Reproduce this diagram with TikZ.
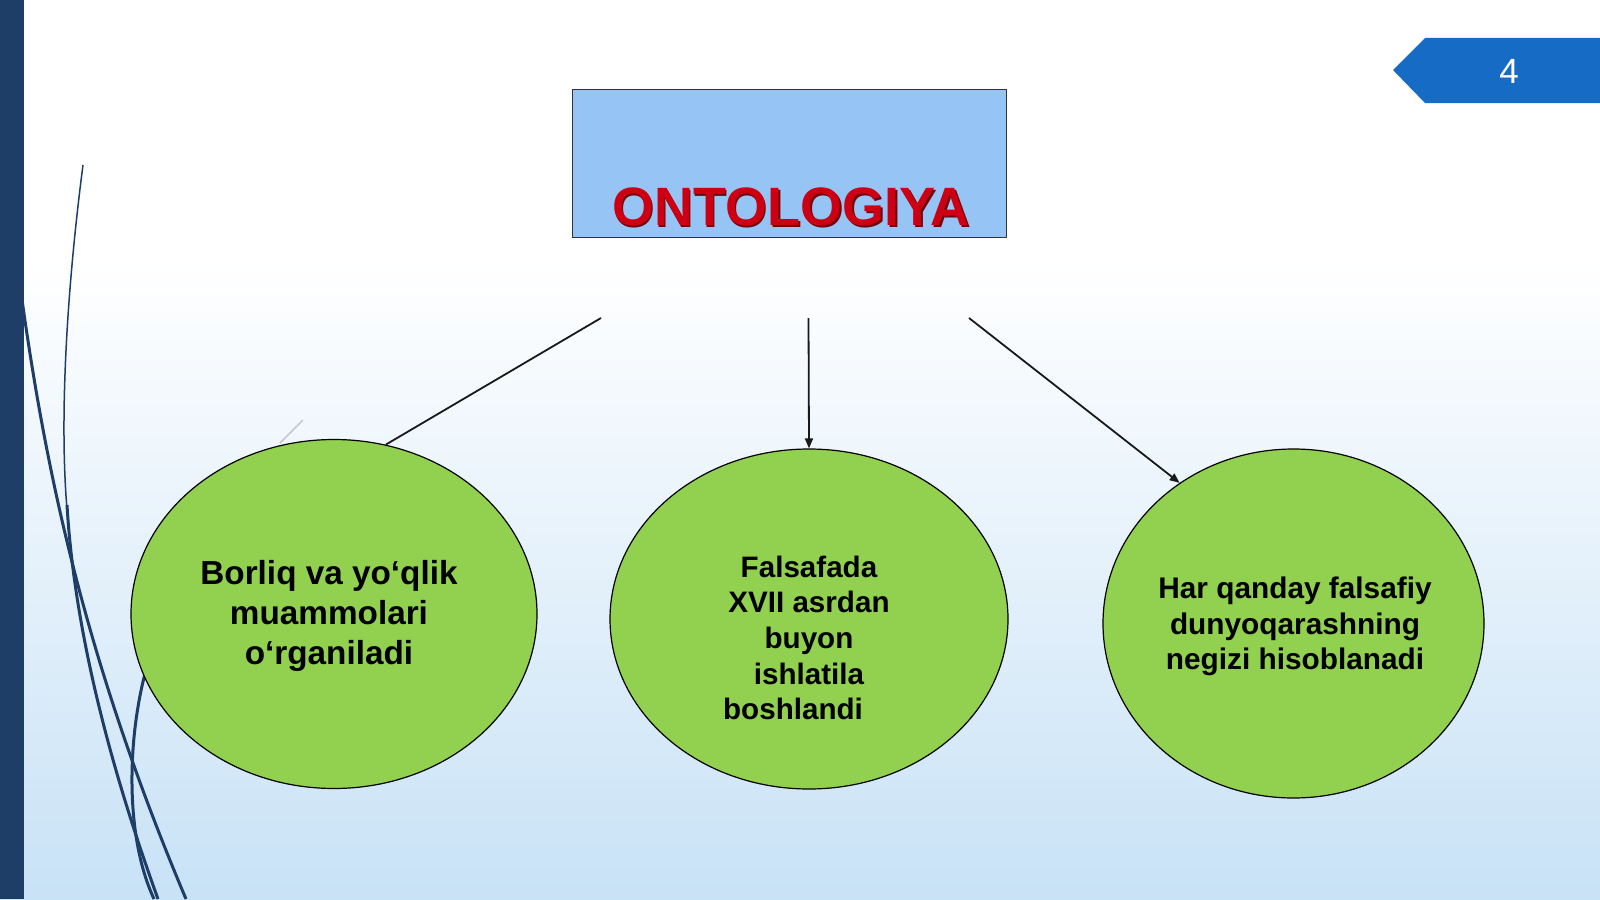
\documentclass[tikz,border=0pt]{standalone}
\usepackage{fontspec}
\setmainfont{Liberation Sans}
\usetikzlibrary{shapes.geometric,arrows.meta}
\definecolor{navy}{RGB}{30,62,104}
\definecolor{bgblue}{RGB}{200,226,246}
\definecolor{boxblue}{RGB}{150,196,245}
\definecolor{ellgreen}{RGB}{146,208,80}
\definecolor{titlered}{RGB}{204,0,18}
\definecolor{badgeblue}{RGB}{22,108,196}
\begin{document}
\begin{tikzpicture}[x=1pt,y=-1pt,
  bubble/.style={ellipse, draw=black, line width=1.2pt, fill=ellgreen, inner sep=0pt},
  bubbletext/.style={align=center, font=\bfseries\fontsize{29}{35.4}\selectfont, text=black, inner sep=0pt},
  conn/.style={draw=black!90, line width=1.8pt},
  arrowconn/.style={conn, -{Triangle[length=10pt,width=8pt]}},
  curvethick/.style={draw=navy, line width=3pt},
  curvethin/.style={draw=navy, line width=1.5pt},
]
\useasboundingbox (0,0) rectangle (1600,899);
% background
\fill[white] (0,0) rectangle (1600,261);
\shade[top color=white, bottom color=bgblue] (0,260) rectangle (1600,899);

% decorative curves
\draw[curvethin] (83,165) .. controls (68,280) and (58,420) .. (68,520);
\draw[curvethick] (67,505) .. controls (75,640) and (115,780) .. (158,899);
\draw[curvethick] (20,285) .. controls (45,470) and (85,660) .. (186,899);
\draw[curvethick] (152,650) .. controls (128,720) and (122,830) .. (154,899);

% left bar
\fill[navy] (0,0) rectangle (24,899);

% page badge
\fill[badgeblue] (1393,70) -- (1425,38) -- (1600,38) -- (1600,103) -- (1425,103) -- cycle;
\node[text=white, font=\fontsize{35}{40}\selectfont, inner sep=0pt] (pagenum) at (1509,71.5) {4};

% title box
\node[draw=black!80, line width=1pt, fill=boxblue, minimum width=434pt, minimum height=148pt, inner sep=0pt, anchor=north west] (title) at (572,89) {};
\node[font=\bfseries\fontsize{54}{60}\selectfont, text=titlered!55!black, anchor=base, inner sep=0pt] (titleshadow) at (792.5,227) {ONTOLOGIYA};
\node[font=\bfseries\fontsize{54}{60}\selectfont, text=titlered, anchor=base, inner sep=0pt] (titletext) at (791,225.5) {ONTOLOGIYA};

% faint stroke
\draw[black!22, line width=1.5pt] (280,443) -- (303,420);

% connector starts
\coordinate (s1) at (601,318);
\coordinate (s2) at (808.5,318);
\coordinate (s3) at (969,318);

% ellipses
\node[bubble, minimum width=406pt, minimum height=349pt] (e1) at (334,614) {};
\node[bubble, minimum width=398pt, minimum height=340pt] (e2) at (809,619) {};
\node[bubble, minimum width=381pt, minimum height=349pt] (e3) at (1293.5,623.5) {};

\draw[conn] (s1) -- (e1.73);
\draw[arrowconn] (s2) -- (e2.north);
\draw[arrowconn] (s3) -- (e3.129);

% texts
\node[bubbletext, font=\bfseries\fontsize{33.3}{39.8}\selectfont] (t1) at (329,616) {Borliq va yo‘qlik\\muammolari\\o‘rganiladi};
\node[bubbletext, font=\bfseries\fontsize{29.6}{35.7}\selectfont] (t2) at (809,638) {Falsafada\\XVII asrdan\\buyon\\ishlatila\\boshlandi\hspace*{32pt}};
\node[bubbletext, font=\bfseries\fontsize{29.8}{35.7}\selectfont] (t3) at (1295,626.5) {Har qanday falsafiy\\dunyoqarashning\\negizi hisoblanadi};
\end{tikzpicture}
\end{document}
